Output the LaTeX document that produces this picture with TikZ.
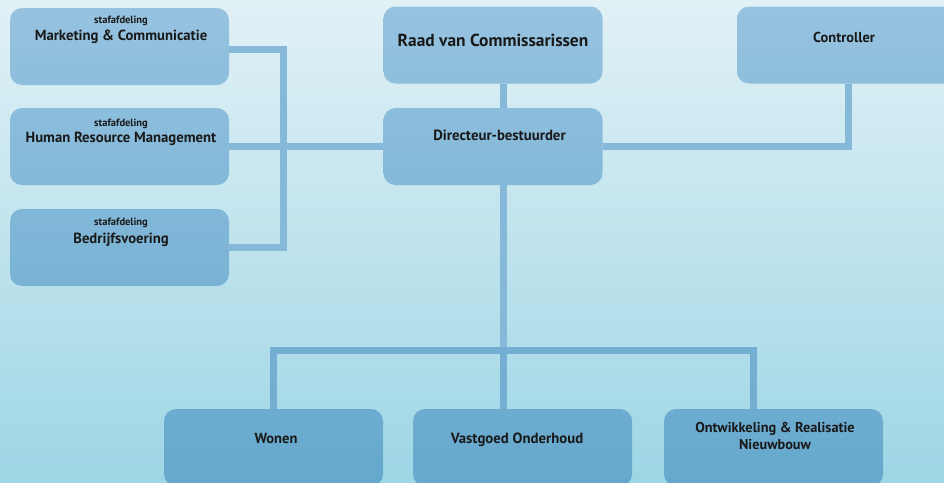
\documentclass[tikz,border=0pt]{standalone}
\usepackage{fontspec}
\setmainfont{PT Sans}
\definecolor{bgtop}{RGB}{225,241,246}
\definecolor{bgbot}{RGB}{158,214,229}
\definecolor{boxtop}{RGB}{151,195,224}
\definecolor{boxbot}{RGB}{101,168,205}
\definecolor{connup}{RGB}{134,185,217}
\definecolor{conndn}{RGB}{116,175,211}
\tikzset{
  box/.style={rectangle, rounded corners=12pt, minimum width=219pt, minimum height=77pt, inner sep=0pt, draw=none},
  conn/.style={line width=7pt, line join=miter, line cap=butt},
  lbl/.style={inner sep=0pt, anchor=base, font=\bfseries\fontsize{14.7}{16}\selectfont, text=black!90},
  small/.style={inner sep=0pt, anchor=base, font=\bfseries\fontsize{10.5}{11}\selectfont, text=black!90},
}
\begin{document}
\begin{tikzpicture}[x=1pt,y=-1pt]
\useasboundingbox (0,0) rectangle (944,482);
\clip (0,0) rectangle (944,482);
\shade[top color=bgtop, bottom color=bgbot] (0,0) rectangle (944,482);
% coordinates for connectors
\coordinate (lb1) at (283.5,49.5);
\coordinate (lb2) at (283.5,247.5);
\coordinate (trunk) at (503.5,0);
\coordinate (cc) at (848.5,146.5);
\coordinate (bus) at (0,350);
\coordinate (ox) at (753,0);
% boxes
\node[box, top color=boxbot!2!boxtop, bottom color=boxbot!18!boxtop] (mkt) at (119.5,46.5) {};
\node[box, top color=boxbot!22!boxtop, bottom color=boxbot!38!boxtop] (hrm) at (119.5,146.5) {};
\node[box, top color=boxbot!43!boxtop, bottom color=boxbot!59!boxtop] (bed) at (119.5,247.5) {};
\node[box, top color=boxbot!1!boxtop, bottom color=boxbot!17!boxtop] (raad) at (493,45) {};
\node[box, top color=boxbot!22!boxtop, bottom color=boxbot!38!boxtop] (dir) at (493,146.5) {};
\node[box, top color=boxbot!1!boxtop, bottom color=boxbot!17!boxtop] (ctrl) at (846.5,45) {};
\node[box, top color=boxbot!85!boxtop, bottom color=boxbot] (won) at (273.5,447.5) {};
\node[box, top color=boxbot!85!boxtop, bottom color=boxbot] (vast) at (522.5,447.5) {};
\node[box, top color=boxbot!85!boxtop, bottom color=boxbot] (ontw) at (773.5,447.5) {};
% connectors
\draw[conn, draw=connup] ([yshift=-3pt]mkt.east) -- (lb1) -- (lb2) -- (bed.east);
\draw[conn, draw=connup] (hrm.east) -- (dir.west);
\draw[conn, draw=connup] (raad.south -| trunk) -- (dir.north -| trunk);
\draw[conn, draw=connup] (dir.east) -- (cc) -- (ctrl.south -| cc);
\draw[conn, draw=connup] (dir.south -| trunk) -- (trunk |- bus);
\draw[conn, draw=conndn] (trunk |- bus) -- (vast.north -| trunk);
\draw[conn, draw=conndn] (won.north) -- (won.north |- bus) -- (ox |- bus) -- (ontw.north -| ox);
% labels
\node[small] (mkt-s) at (121,23.5) {stafafdeling};
\node[lbl] (mkt-t) at (121,40.5) {Marketing \& Communicatie};
\node[small] (hrm-s) at (121,126) {stafafdeling};
\node[lbl] (hrm-t) at (121,142.5) {Human Resource Management};
\node[small] (bed-s) at (121,225) {stafafdeling};
\node[lbl] (bed-t) at (121,243) {Bedrijfsvoering};
\node[lbl, font=\bfseries\fontsize{17.4}{19}\selectfont] (raad-t) at (493,46.5) {Raad van Commissarissen};
\node[lbl, font=\bfseries\fontsize{14.8}{16}\selectfont] (dir-t) at (499.5,140.5) {Directeur-bestuurder};
\node[lbl, font=\bfseries\fontsize{14.4}{16}\selectfont] (ctrl-t) at (844,42) {Controller};
\node[lbl, font=\bfseries\fontsize{14.6}{16}\selectfont] (won-t) at (276,443.5) {Wonen};
\node[lbl, font=\bfseries\fontsize{14.8}{16}\selectfont] (vast-t) at (517,443.5) {Vastgoed Onderhoud};
\node[lbl, font=\bfseries\fontsize{14.3}{16}\selectfont] (ontw-t1) at (775,432) {Ontwikkeling \& Realisatie};
\node[lbl, font=\bfseries\fontsize{14.3}{16}\selectfont] (ontw-t2) at (775,449) {Nieuwbouw};
\end{tikzpicture}
\end{document}
